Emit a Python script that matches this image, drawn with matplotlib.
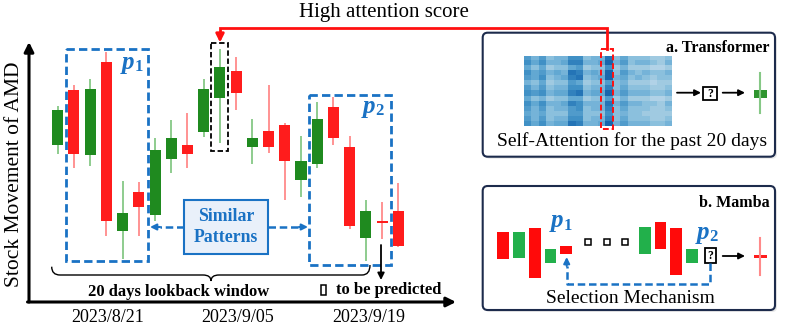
import numpy as np
import matplotlib.pyplot as plt
from matplotlib.patches import Rectangle, FancyBboxPatch, PathPatch
from matplotlib.path import Path

plt.rcParams['font.family'] = ['Liberation Serif', 'DejaVu Serif']

# candle data (arbitrary price units)
opens  = [155, 210, 145, 238, 69, 108, 85, 141, 155, 168, 202, 229, 153, 169, 175, 120, 136, 193, 153, 62, 79, 89]
closes = [190, 146, 211, 79, 87, 93, 150, 162, 146, 211, 233, 207, 162, 153, 139, 139, 181, 162, 74, 89, 77, 54]
highs  = [194, 215, 221, 248, 119, 118, 162, 180, 187, 221, 251, 243, 181, 215, 177, 164, 198, 203, 164, 100, 98, 117]
lows   = [146, 132, 134, 64, 41, 64, 79, 127, 132, 163, 157, 190, 136, 147, 100, 103, 132, 155, 71, 39, 61, 53]
date_labels = ['2023/8/21', '2023/9/05', '2023/9/19']

# mamba panel bodies (open, close), left group and right group
mamba_left = [(67.7, 41), (41.7, 68.3), (72.3, 21.7), (36.7, 51), (54.3, 46)]
mamba_right = [(46, 72.7), (77.7, 51), (72.3, 25), (36.7, 51)]
mamba_left_slots = [0, 1, 2, 3, 4]
mamba_right_slots = [9, 10, 11, 12]

# self-attention heatmap intensities (0-9), 14 rows x 20 days
attn_rows = [
    "53523366233824222112",
    "64633477334935233213",
    "42412245122613111001",
    "64534387343925323223",
    "54623478234934232122",
    "32412254122523111011",
    "53523366233724222112",
    "65634478344935333223",
    "42312244122513111001",
    "64633476333835332213",
    "53523356233724222112",
    "43422255222623221111",
    "53523366233724222112",
    "64634487334935333223",
]
attn = np.array([[int(ch) for ch in r] for r in attn_rows])

W, H = 789, 329
GREEN, RED = '#1f8a1f', '#ff1c1c'
GWICK, RWICK = '#86c886', '#ff8a8a'
BLUE = '#1a72c4'

def frac(x0, y0, x1, y1):
    return [x0 / W, 1 - y1 / H, (x1 - x0) / W, (y1 - y0) / H]

def pixel_axes(z):
    a = fig.add_axes([0, 0, 1, 1], zorder=z)
    a.set_xlim(0, W)
    a.set_ylim(H, 0)
    a.axis('off')
    a.patch.set_alpha(0)
    return a

fig = plt.figure(figsize=(W / 100, H / 100), dpi=100)

# ---- background panels ----
bg = pixel_axes(0)

def panel(x0, y0, x1, y1):
    bg.add_patch(FancyBboxPatch((x0 + 2, y0 + 2), x1 - x0, y1 - y0,
                                boxstyle='round,pad=0,rounding_size=5',
                                fc='#d8d8d8', ec='none', alpha=0.6))
    bg.add_patch(FancyBboxPatch((x0, y0), x1 - x0, y1 - y0,
                                boxstyle='round,pad=0,rounding_size=5',
                                fc='white', ec='#1d2b4c', lw=1.5))

panel(482.7, 32.7, 775, 156.7)
panel(482.7, 186, 775, 310)

# ---- candlestick chart ----
axc = fig.add_axes(frac(40, 40, 420, 270), zorder=1)
axc.set_xlim(-1.091, 22.336)
axc.set_ylim(30, 260)
axc.axis('off')
for i, (o, c, h, l) in enumerate(zip(opens, closes, highs, lows)):
    up = c >= o
    axc.vlines(i, l, h, color=GWICK if up else RWICK, lw=1.3, zorder=1)
    axc.bar(i, abs(c - o), bottom=min(o, c), width=0.68,
            color=GREEN if up else RED, zorder=2)

# ---- heatmap ----
axh = fig.add_axes(frac(524, 55.7, 671.7, 126), zorder=1)
axh.imshow(attn, cmap='Blues', vmin=-6, vmax=13, aspect='auto', interpolation='nearest')
axh.axis('off')

# ---- mamba bodies ----
axm = fig.add_axes(frac(490, 215, 700, 285), zorder=1)
axm.set_xlim(-0.847, 12.52)
axm.set_ylim(15, 85)
axm.axis('off')
axm.patch.set_alpha(0)
for slots, bodies in [(mamba_left_slots, mamba_left), (mamba_right_slots, mamba_right)]:
    for s, (o, c) in zip(slots, bodies):
        axm.bar(s, abs(c - o), bottom=min(o, c), width=0.745,
                color='#22b04b' if c > o else '#ff0a0a')

# ---- overlay in pixel coordinates ----
ax = pixel_axes(2)

def arrow(x0, y0, x1, y1, color='black', lw=1.5, ms=12):
    ax.annotate('', xy=(x1, y1), xytext=(x0, y0),
                arrowprops=dict(arrowstyle='-|>', color=color, lw=lw,
                                mutation_scale=ms, shrinkA=0, shrinkB=0))

# axes arrows
arrow(29, 302, 29, 42, lw=2.2, ms=14)
arrow(27.5, 302, 456, 302, lw=2.2, ms=14)
ax.text(15, 174, 'Stock Movement of AMD', rotation=90, fontsize=15.5,
        ha='center', va='center')
for lab, x in zip(date_labels, [108, 238, 369]):
    ax.text(x, 318, lab, fontsize=13, ha='center', va='center')

# pattern boxes
ax.add_patch(Rectangle((65.7, 49), 82, 211.7, fill=False, ec=BLUE, lw=2, ls=(0, (3, 1.5))))
ax.add_patch(Rectangle((309, 95), 81.7, 170, fill=False, ec=BLUE, lw=2, ls=(0, (3, 1.5))))
ax.add_patch(Rectangle((210.7, 43.3), 17.6, 107.7, fill=False, ec='black', lw=1.3, ls=(0, (3, 1.5))))

def plabel(x, y, sub):
    ax.text(x, y, 'p', fontsize=18, color=BLUE, fontweight='bold', fontstyle='italic',
            ha='right', va='center')
    ax.text(x + 0.5, y + 5, sub, fontsize=12, color=BLUE, fontweight='bold',
            ha='left', va='center')

plabel(134, 62, '1')
plabel(375, 106, '2')

# similar patterns
ax.add_patch(Rectangle((184.3, 200), 84, 54, fc='#e9f0fa', ec=BLUE, lw=1.5))
ax.text(226.3, 216.5, 'Similar', fontsize=12.8, fontweight='bold', color=BLUE, ha='center', va='center')
ax.text(226.3, 237.5, 'Patterns', fontsize=12.8, fontweight='bold', color=BLUE, ha='center', va='center')
ax.plot([184.3, 160], [227, 227], color=BLUE, lw=1.8, ls=(0, (3, 1.5)))
arrow(160, 227, 150, 227, color=BLUE, lw=1.5, ms=9)
ax.plot([268.3, 299], [227, 227], color=BLUE, lw=1.8, ls=(0, (3, 1.5)))
arrow(299, 227, 308, 227, color=BLUE, lw=1.5, ms=9)

# brace
verts = [(51.7, 266.7), (51.7, 275), (60, 275), (203, 275), (211, 275), (211, 281),
         (211, 275), (219, 275), (362, 275), (370, 275), (370, 265)]
codes = [Path.MOVETO, Path.CURVE3, Path.CURVE3, Path.LINETO, Path.CURVE3, Path.CURVE3,
         Path.CURVE3, Path.CURVE3, Path.LINETO, Path.CURVE3, Path.CURVE3]
ax.add_patch(PathPatch(Path(verts, codes), fill=False, ec='black', lw=1.0))
ax.text(179, 292.5, '20 days lookback window', fontsize=12, fontweight='bold',
        ha='center', va='center')

# to be predicted
arrow(381, 245, 381, 280, lw=1.3, ms=10)
ax.add_patch(Rectangle((320.7, 285), 5.5, 10, fill=False, ec='black', lw=1.1))
ax.text(336, 290.5, 'to be predicted', fontsize=12, fontweight='bold', ha='left', va='center')

# high attention connector
ax.text(384, 12, 'High attention score', fontsize=15, ha='center', va='center')
ax.plot([220, 220, 606.7, 606.7], [34, 28, 28, 49], color='#ff1010', lw=2, solid_joinstyle='miter')
arrow(220, 33, 220, 42.5, color='#ff1010', lw=2, ms=12)

ax.text(770, 48, 'a. Transformer', fontsize=11.5, fontweight='bold', ha='right', va='center')
ax.text(770, 203, 'b. Mamba', fontsize=11.5, fontweight='bold', ha='right', va='center')
ax.text(631.7, 141.5, 'Self-Attention for the past 20 days', fontsize=14, ha='center', va='center')
ax.text(630.8, 298.5, 'Selection Mechanism', fontsize=14, ha='center', va='center')

ax.add_patch(Rectangle((600.7, 49.3), 12.6, 79.7, fill=False, ec='#ff1010', lw=1.4, ls=(0, (3, 1.5))))


def qbox(x0, y0, w, h):
    ax.add_patch(Rectangle((x0, y0), w, h, fc='white', ec='black', lw=1.3))
    ax.text(x0 + w / 2, y0 + h / 2 + 0.5, '?', fontsize=8.5, fontweight='bold',
            ha='center', va='center')

arrow(677, 92.7, 701, 92.7, lw=1.3, ms=9)
qbox(703, 86.7, 13.7, 13.3)
arrow(722.7, 92.7, 745, 92.7, lw=1.3, ms=9)
ax.plot([760, 760], [73, 112.7], color='#86c886', lw=1.5)
ax.add_patch(Rectangle((754, 90), 12.7, 8.3, fc='#2f952f', ec='none'))

# mamba extras
for x in [588.3, 606.7, 625]:
    ax.add_patch(Rectangle((x - 3, 238.7), 6, 6, fill=False, ec='black', lw=1.1))
plabel(563, 221, '1')
plabel(709, 232, '2')
qbox(705, 248.3, 10.7, 15)
ax.plot([710.3, 710.3, 566.7, 566.7], [263.3, 284, 284, 266], color=BLUE, lw=1.8, ls=(0, (3, 1.5)))
arrow(566.7, 266, 566.7, 257, color=BLUE, lw=1.5, ms=9)
arrow(722.7, 256, 745, 256, lw=1.3, ms=9)
ax.plot([760, 760], [238, 275], color='#ff8a8a', lw=1.5)
ax.add_patch(Rectangle((754, 254.5), 12.7, 3, fc='#ff1c1c', ec='none'))

fig.savefig('out.png', dpi=100)
